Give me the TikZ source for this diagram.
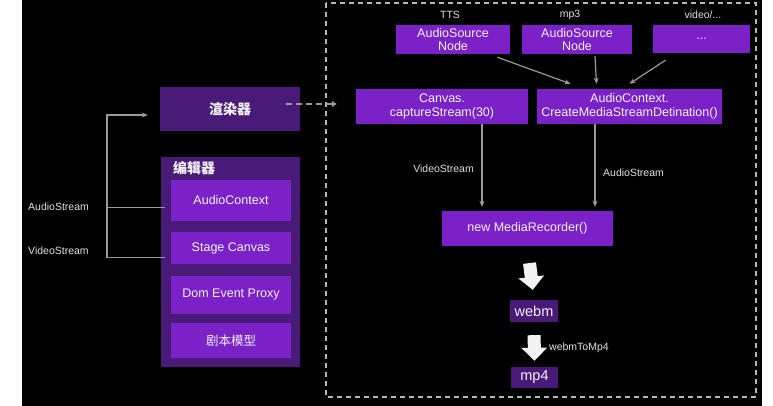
\documentclass[tikz,border=0pt]{standalone}
\usepackage{fontspec}
\setmainfont{Liberation Sans}
\newfontfamily\cjk{Noto Sans CJK SC}
\usetikzlibrary{arrows.meta,positioning}
\definecolor{vio}{HTML}{7A22C8}
\definecolor{darkvio}{HTML}{4A1A78}
\definecolor{wire}{HTML}{9A9A9A}
\definecolor{txt}{HTML}{F2F2F2}

\begin{document}
\begin{tikzpicture}[x=1pt,y=-1pt,
  box/.style={fill=vio,text=txt,inner sep=0pt,align=center,font=\fontsize{12.5}{13.5}\selectfont},
  dbox/.style={box,fill=darkvio},
  lbl/.style={text=txt!85!gray,inner sep=0pt,font=\fontsize{10.5}{12}\selectfont},
  line/.style={draw=wire,line width=1.2pt},
  link/.style={line,-{Stealth[length=6pt,width=5pt]}},
  fat/.style={draw=white!90!gray,line width=13pt,-{Triangle[length=13pt,width=25pt]}}]
\useasboundingbox (0,0) rectangle (773,406);
\fill[black] (22,0) rectangle (762,406);
\draw[wire!70!white,line width=1.2pt,dash pattern=on 5pt off 4pt] (326,3) rectangle (756,397);

% left: renderer and editor
\node[dbox,minimum width=140pt,minimum height=44pt,font=\cjk\bfseries\fontsize{14}{16}\selectfont] (render) at (230,109) {渲染器};
\node[dbox,minimum width=139pt,minimum height=210pt] (editor) at (230.5,262) {};
\node[text=txt,inner sep=0pt,anchor=west,font=\cjk\bfseries\fontsize{14}{16}\selectfont] (edtitle) at (173,168) {编辑器};
\node[box,minimum width=120pt,minimum height=41pt] (ac) at (231,200.5) {AudioContext};
\node[box,minimum width=120pt,minimum height=32pt,below=11pt of ac] (stage) {Stage Canvas};
\node[box,minimum width=120pt,minimum height=38pt,below=11pt of stage] (dom) {Dom Event Proxy};
\node[box,minimum width=120pt,minimum height=35pt,below=9pt of dom,font=\cjk\fontsize{12.5}{14}\selectfont] (script) {剧本模型};

\coordinate (bus) at (107,115);
\draw[link] ([xshift=-6pt,yshift=-9pt]stage.west) -| (bus) -- ([xshift=-12pt]bus -| render.west);
\draw[line] ([xshift=-6pt,yshift=-7pt]ac.west) -| (bus);
\node[lbl,anchor=west] (astream) at (28,207) {AudioStream};
\node[lbl,anchor=west] (vstream) at (28,251) {VideoStream};

% right: recording pipeline
\node[box,minimum width=114pt,minimum height=29pt] (tts) at (453,39.5) {AudioSource\\Node};
\node[box,minimum width=110pt,minimum height=29pt] (mp3src) at (577,39.5) {AudioSource\\Node};
\node[box,minimum width=97pt,minimum height=28pt] (other) at (701.5,39) {...};
\node[lbl] (ttslbl) at (450,15) {TTS};
\node[lbl] (mp3lbl) at (570,15) {mp3};
\node[lbl] (vidlbl) at (703,15) {video/...};

\node[box,minimum width=172pt,minimum height=35pt] (canvas) at (442,106.5) {Canvas.\\captureStream(30)};
\node[box,minimum width=185pt,minimum height=35pt] (acdest) at (629.5,106.5) {AudioContext.\\CreateMediaStreamDetination()};
\node[box,minimum width=171pt,minimum height=35pt] (rec) at (527.5,228.5) {new MediaRecorder()};
\node[dbox,minimum width=48pt,minimum height=22pt,font=\fontsize{14.5}{16}\selectfont] (webm) at (534,311) {webm};
\node[dbox,minimum width=47pt,minimum height=21pt,font=\fontsize{14.5}{16}\selectfont] (mp4) at (534.5,377.5) {mp4};

\draw[line,dash pattern=on 6pt off 4pt,-{Triangle[length=5pt,width=6pt]},shorten >=19pt] ([xshift=-14pt,yshift=5pt]render.east) -- ([yshift=5pt]render.east -| canvas.west);

\draw[link] ([xshift=-13pt,yshift=-3pt]tts.south east) -- ([xshift=-59pt,yshift=5pt]acdest.north);
\draw[link] ([xshift=18pt,yshift=-2pt]mp3src.south) -- ([xshift=-33pt,yshift=5pt]acdest.north);
\draw[link] ([xshift=-36pt,yshift=-7pt]other.south) -- ([yshift=5pt]acdest.north);

\draw[link,shorten >=4pt] ([xshift=40pt]canvas.south) -- ([xshift=40pt]canvas.south |- rec.north);
\draw[link,shorten >=4pt] ([xshift=-34.5pt]acdest.south) -- ([xshift=-34.5pt]acdest.south |- rec.north);
\node[lbl,anchor=east] (vlbl) at (474,169) {VideoStream};
\node[lbl,anchor=west] (albl) at (603,173) {AudioStream};

\draw[fat,shorten <=17pt,shorten >=10pt] (rec.south) -- (webm.north);
\draw[fat,shorten <=13pt,shorten >=6pt] (webm.south) -- (mp4.north);
\node[lbl,anchor=west] (convlbl) at (549,348) {webmToMp4};
\end{tikzpicture}
\end{document}
